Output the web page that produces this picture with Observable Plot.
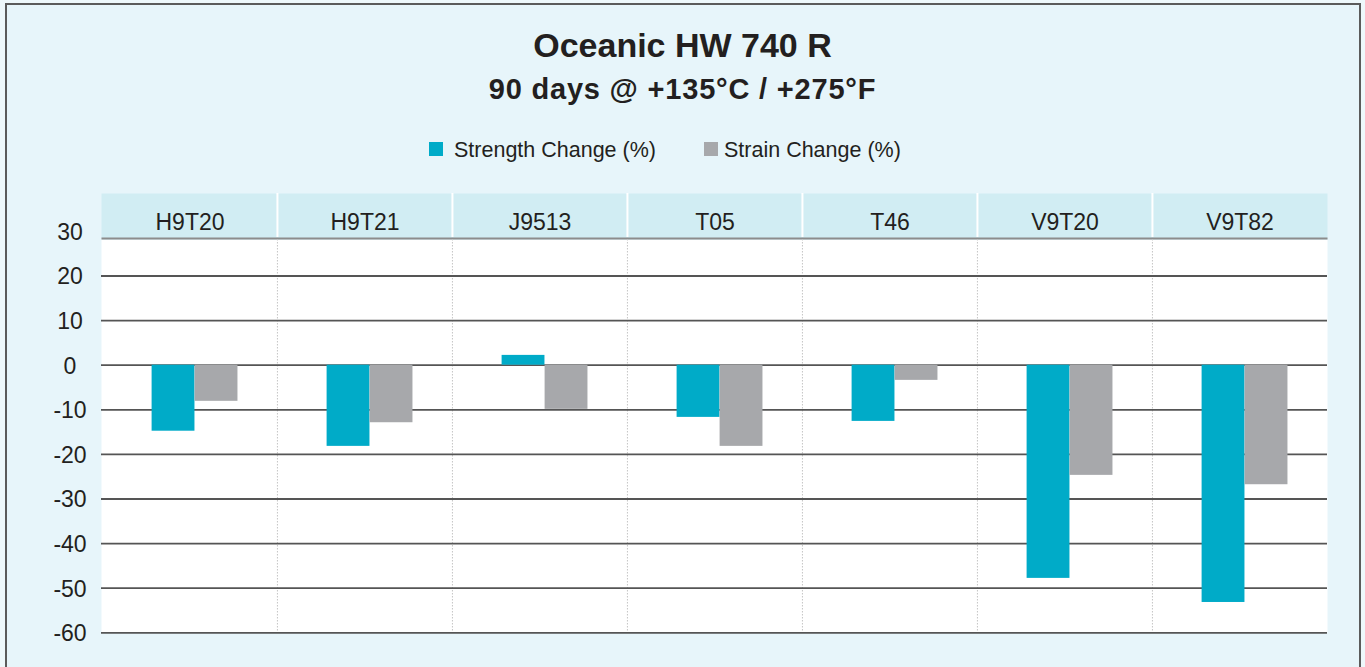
<!DOCTYPE html>
<html>
<head>
<meta charset="utf-8">
<script src="https://cdn.jsdelivr.net/npm/d3@7"></script>
<script src="https://cdn.jsdelivr.net/npm/@observablehq/plot@0.6"></script>
<style>
  html, body { margin: 0; padding: 0; width: 1365px; height: 667px; overflow: hidden; background: #eef8fb;
    font-family: "Liberation Sans", Arial, Helvetica, sans-serif; color: #231f20; }
  #frame { position: absolute; left: 5px; top: 3px; width: 1352px; height: 720px; border: 2px solid #5b5b5b; background: #e7f5fa; }
  .title { position: absolute; left: 0; width: 1365px; text-align: center; font-weight: bold; white-space: nowrap; }
  #t1 { top: 25px; font-size: 34px; line-height: 40px; }
  #t2 { top: 72px; font-size: 29px; line-height: 34px; letter-spacing: 0.8px; }
  .sw { position: absolute; top: 142px; width: 14px; height: 14px; }
  .lt { position: absolute; top: 138px; font-size: 21.5px; line-height: 24px; white-space: nowrap; }
  #chart { position: absolute; left: 0; top: 160px; }
</style>
</head>
<body>
<div id="frame"></div>
<div class="title" id="t1">Oceanic HW 740 R</div>
<div class="title" id="t2">90 days @ +135°C / +275°F</div>
<div id="legend"></div>
<div id="chart"></div>
<script>
// ---- data ----
const categories = ["H9T20", "H9T21", "J9513", "T05", "T46", "V9T20", "V9T82"];
const strengthChange = [-14.8, -18.2, 2.2, -11.7, -12.6, -47.8, -53.2];
const strainChange = [-8.1, -12.9, -9.9, -18.2, -3.4, -24.7, -26.8];
const seriesNames = ["Strength Change (%)", "Strain Change (%)"];
const yTicks = [30, 20, 10, 0, -10, -20, -30, -40, -50, -60];
const gridTicks = [20, 10, 0, -10, -20, -30, -40, -50, -60];

// ---- styles ----
const teal = "#00abc8";
const grey = "#a7a8ab";
const font = "'Liberation Sans', Arial, Helvetica, sans-serif";

// legend
const legend = document.getElementById("legend");
const legendPos = [{sw: 429, tx: 454, color: teal}, {sw: 704, tx: 724, color: grey}];
seriesNames.forEach((name, i) => {
  const s = document.createElement("div");
  s.className = "sw"; s.style.left = legendPos[i].sw + "px"; s.style.background = legendPos[i].color;
  const t = document.createElement("div");
  t.className = "lt"; t.style.left = legendPos[i].tx + "px"; t.textContent = name;
  legend.appendChild(s); legend.appendChild(t);
});

// geometry
const W = 1365, H = 507;
const mL = 101, mR = 38, mT = 33;
const bw = (W - mL - mR) / categories.length;   // band width
const barW = 43;
const center = 92.6;                            // bar-pair centre offset inside band
const headerH = 46;
const frameH = 439;

const chart = Plot.plot({
  width: W,
  height: H,
  marginLeft: mL,
  marginRight: mR,
  marginTop: mT,
  marginBottom: H - mT - frameH,
  style: { background: "transparent", fontFamily: font, color: "#231f20", overflow: "visible" },
  x: { type: "band", domain: categories, padding: 0, axis: null },
  y: { domain: [-60, 30], range: [472.3, 70.9], axis: null },
  marks: [
    // white plot area and header band
    Plot.frame({ fill: "white", stroke: "none", insetTop: headerH }),
    Plot.frame({ fill: "#d1edf3", stroke: "none", insetBottom: frameH - headerH }),
    Plot.frame({ fill: "#8c8c8c", stroke: "none", insetTop: headerH - 2, insetBottom: frameH - headerH }),
    // separators
    Plot.ruleX(categories.slice(1), { x: d => d, dx: -bw / 2, stroke: "white", strokeWidth: 2, insetBottom: frameH - headerH + 2 }),
    Plot.ruleX(categories.slice(1), { x: d => d, dx: -bw / 2, stroke: "#c4c4c4", strokeWidth: 1, strokeDasharray: "1.5,1.5", insetTop: headerH }),
    // gridlines
    Plot.ruleY(gridTicks, { y: d => d, stroke: "#555", strokeWidth: 1.8 }),
    // bars
    Plot.barY(categories, { x: d => d, y: (d, i) => strengthChange[i], fill: teal,
      insetLeft: center - barW, insetRight: bw - center }),
    Plot.barY(categories, { x: d => d, y: (d, i) => strainChange[i], fill: grey,
      insetLeft: center, insetRight: bw - center - barW }),
    // y tick labels
    Plot.text(yTicks, { y: d => d, text: d => String(d), frameAnchor: "left", dx: -31.5, dy: 1,
      textAnchor: "middle", fontSize: 23, fill: "#231f20" }),
    // category header labels
    Plot.text(categories, { x: d => d, text: d => d, frameAnchor: "top", dy: 20,
      fontSize: 23, fill: "#231f20" })
  ]
});
document.getElementById("chart").appendChild(chart);
</script>
</body>
</html>
